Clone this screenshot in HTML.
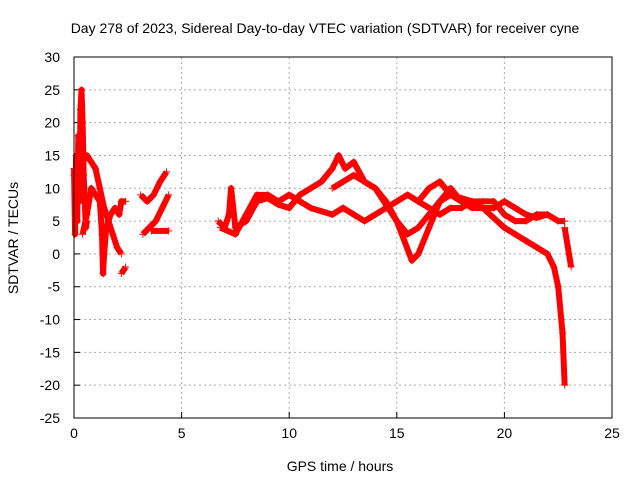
<!DOCTYPE html>
<html><head><meta charset="utf-8"><style>
body{margin:0;background:#fff}
svg{display:block;font-family:"Liberation Sans",sans-serif}
</style></head><body>
<svg id="chart" width="640" height="480" viewBox="0 0 640 480">
<rect width="640" height="480" fill="#fff"/>
<text x="325" y="33" font-size="14" text-anchor="middle">Day 278 of 2023, Sidereal Day-to-day VTEC variation (SDTVAR) for receiver cyne</text>
<g id="grid"></g>
<g id="ticks"></g>
<g id="series"></g>
<rect x="74" y="57" width="538" height="361" fill="none" stroke="#000" stroke-width="1"/>
<text x="0" y="0" font-size="14" text-anchor="middle" transform="translate(18,238) rotate(-90)">SDTVAR / TECUs</text>
<text x="340" y="471" font-size="14" text-anchor="middle">GPS time / hours</text>
</svg>
<script>
const xTicks=[0,5,10,15,20,25];
const yTicks=[-25,-20,-15,-10,-5,0,5,10,15,20,25,30];
const trackA=[[0,13],[0.05,3],[0.1,15],[0.15,5],[0.2,18],[0.25,8],[0.3,22],[0.35,25],[0.4,20],[0.45,12],[0.5,8],[0.55,4],[0.6,5]];
const trackB=[[0,12],[0.2,11],[0.4,14],[0.6,15],[0.8,14],[1.0,13],[1.2,10],[1.4,7],[1.6,5],[1.8,3],[2.0,1],[2.2,0]];
const trackC=[[0.4,3],[0.6,6],[0.8,10],[1.0,9],[1.2,8],[1.3,3],[1.35,-3],[1.4,0],[1.5,4],[1.7,6],[1.9,7],[2.1,6],[2.2,8],[2.4,8]];
const trackD=[[2.2,-3],[2.4,-2]];
const trackE=[[3.1,9],[3.4,8],[3.7,9],[4.0,11],[4.3,12.5]];
const trackF=[[3.2,3],[3.5,4],[3.8,5],[4.1,7],[4.4,9]];
const trackG=[[3.6,3.5],[4.4,3.5]];
const trackH=[[6.7,5],[7.0,4],[7.2,6],[7.3,10],[7.5,4],[8,5],[8.5,8],[9,8.5],[9.5,7.5],[10,7],[10.5,9],[11,10],[11.5,11],[12,13],[12.3,15],[12.6,13],[13,14],[13.5,11],[14,10],[14.5,8],[15,5],[15.5,3],[16,4],[16.5,6],[17,8],[17.5,9],[18,8],[18.5,7],[19,7],[19.5,7],[20,8],[20.5,7],[21,6],[21.5,5.5],[22,6],[22.5,5],[22.8,5]];
const trackI=[[6.8,4],[7.5,3],[8,6],[8.5,9],[9,9],[9.5,8],[10,9],[10.5,8],[11,7],[11.5,6.5],[12,6],[12.5,7],[13,6],[13.5,5],[14,6],[14.5,7],[15,8],[15.5,9],[16,8],[16.5,7],[17,6],[17.5,7],[18,7],[18.5,8],[19,8],[19.5,8],[20,6],[20.5,5],[21,5],[21.5,6],[22,6]];
const trackJ=[[12,10],[13,12],[14,10],[15,5],[15.7,-1],[16,0],[16.5,4],[17,8],[17.5,10],[18,8],[19,7],[20,4],[20.5,3],[21,2],[21.5,1],[22,0],[22.3,-2],[22.5,-5],[22.7,-12],[22.8,-20]];
const trackK=[[16,8],[16.5,10],[17,11],[17.5,9],[18.5,8]];
const trackL=[[22.8,4],[23,0],[23.1,-2]];
const tracks=[trackA,trackB,trackC,trackD,trackE,trackF,trackG,trackH,trackI,trackJ,trackK,trackL];
const X0=74,X1=612,Y0=57,Y1=418,XMIN=0,XMAX=25,YMIN=-25,YMAX=30;
function sx(v){return X0+(v-XMIN)/(XMAX-XMIN)*(X1-X0);}
function sy(v){return Y1-(v-YMIN)/(YMAX-YMIN)*(Y1-Y0);}
const NS="http://www.w3.org/2000/svg";
function mk(tag,attrs,parent){const e=document.createElementNS(NS,tag);for(const k in attrs)e.setAttribute(k,attrs[k]);parent.appendChild(e);return e;}
const grid=document.getElementById('grid'),ticks=document.getElementById('ticks'),series=document.getElementById('series');
xTicks.forEach(t=>{const x=sx(t);
 if(t>XMIN&&t<XMAX){const g=mk('line',{x1:x,x2:x,y1:Y0,y2:Y1,stroke:'#aaa','stroke-dasharray':'2,3'},grid);
 
 }
 const l=mk('line',{x1:x,x2:x,y1:Y1,y2:Y1-6,stroke:'#000'},ticks);
 
 
 const tx=mk('text',{x:x,y:Y1+20,'font-size':14,'text-anchor':'middle'},ticks);tx.textContent=t;
 
 
});
yTicks.forEach(t=>{const y=sy(t);
 if(t>YMIN&&t<YMAX){const g=mk('line',{x1:X0,x2:X1,y1:y,y2:y,stroke:'#aaa','stroke-dasharray':'2,3'},grid);
 
 }
 const l=mk('line',{x1:X0,x2:X0+6,y1:y,y2:y,stroke:'#000'},ticks);
 
 
 const tx=mk('text',{x:X0-14,y:y+5,'font-size':14,'text-anchor':'end'},ticks);tx.textContent=t;
 
 
});
tracks.forEach((tr,i)=>{
 const pl=mk('polyline',{points:tr.map(p=>sx(p[0])+','+sy(p[1])).join(' '),fill:'none',stroke:'#f00','stroke-width':6,'stroke-linejoin':'round'},series);
 
 
 tr.forEach(p=>{const x=sx(p[0]),y=sy(p[1]);
  const m=mk('path',{d:`M${x-3.5},${y}H${x+3.5}M${x},${y-3.5}V${y+3.5}`,stroke:'#f00','stroke-width':1},series);
  
  
 });
});
</script>
</body></html>
